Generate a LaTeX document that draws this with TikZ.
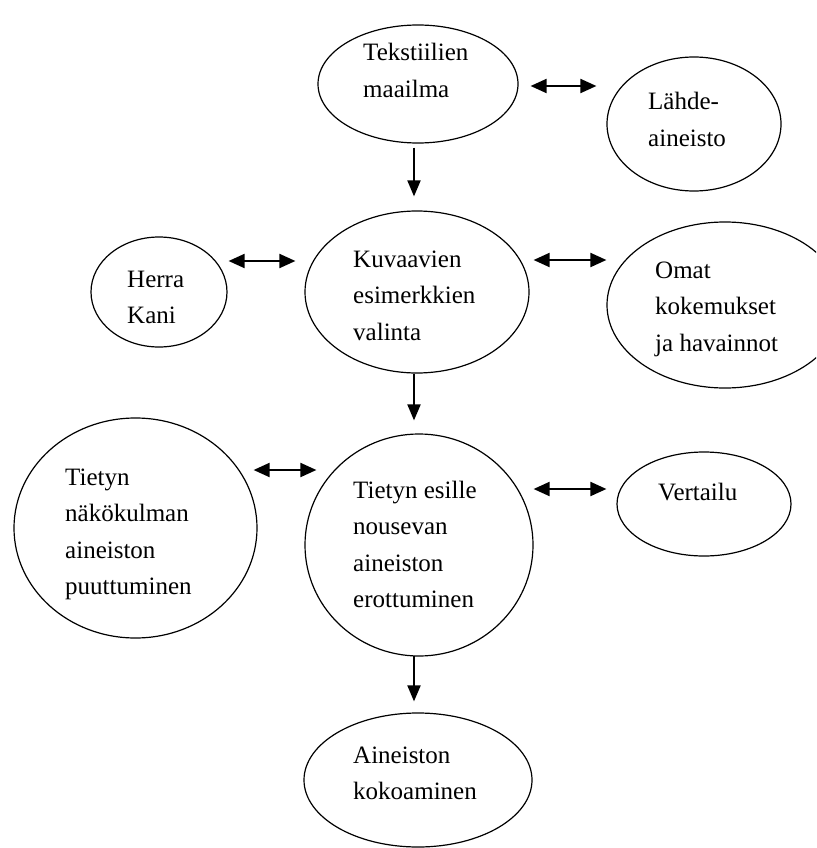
\documentclass[tikz,border=0pt]{standalone}
\usepackage{fontspec}
\setmainfont{Liberation Serif}
\usetikzlibrary{shapes.geometric,arrows.meta,calc}
\newcommand\bublines[1]{\begin{tabular}[t]{@{}l@{}}#1\end{tabular}}
\begin{document}
\begin{tikzpicture}[x=1pt,y=-1pt,
  oval/.style 2 args={draw, ellipse, line width=1.2pt, inner sep=0pt,
    minimum width=#1, minimum height=#2},
  lbl/.style={anchor=base west, inner sep=0pt,
    font=\fontsize{25}{36.5}\selectfont},
  dbl/.style={{Triangle[length=16pt,width=14pt]}-{Triangle[length=16pt,width=14pt]}, line width=2pt},
  one/.style={-{Triangle[length=16pt,width=13pt]}, line width=2pt}]
\useasboundingbox (0,0) rectangle (816,848);
\clip (0,0) rectangle (816,848);
% ellipses
\node[oval={200pt}{118pt}] (tekst) at (418,84) {};
\node[oval={174pt}{134pt}] (lahde) at (694,124) {};
\node[oval={136pt}{110pt}] (herra) at (159,292) {};
\node[oval={224pt}{162pt}] (kuv) at (417,292) {};
\node[oval={236pt}{166pt}] (omat) at (725,305) {};
\node[oval={243pt}{220pt}] (nak) at (135.5,528) {};
\node[oval={228pt}{222pt}] (esille) at (419,545) {};
\node[oval={174pt}{104pt}] (vert) at (704,504) {};
\node[oval={228pt}{134pt}] (koko) at (418,780) {};
% texts
\node[lbl] (tekstT) at (363,61) {\bublines{Tekstiilien\\maailma}};
\node[lbl] (lahdeT) at (648,110) {\bublines{Lähde-\\aineisto}};
\node[lbl] (herraT) at (127,287) {\bublines{Herra\\Kani}};
\node[lbl] (kuvT) at (353,267) {\bublines{Kuvaavien\\esimerkkien\\valinta}};
\node[lbl] (omatT) at (655,278) {\bublines{Omat\\kokemukset\\ja havainnot}};
\node[lbl] (nakT) at (65,485) {\bublines{Tietyn\\näkökulman\\aineiston\\puuttuminen}};
\node[lbl] (esilleT) at (353,498) {\bublines{Tietyn esille\\nousevan\\aineiston\\erottuminen}};
\node[lbl] (vertT) at (658,500) {Vertailu};
\node[lbl] (kokoT) at (353,763) {\bublines{Aineiston\\kokoaminen}};
% double arrows
\draw[dbl] ($(tekst.east)+(12,2)$) -- ($(tekst.east -| lahde.west)+(-10,2)$);
\draw[dbl] ($(herra.east)+(1,-31)$) -- ($(herra.east -| kuv.west)+(-9,-31)$);
\draw[dbl] ($(kuv.east)+(4,-32)$) -- ($(kuv.east -| omat.west)+(0,-32)$);
\draw[dbl] ($(nak.east)+(-4,-58)$) -- ($(nak.east -| esille.west)+(12,-58)$);
\draw[dbl] ($(esille.east)+(0,-56)$) -- ($(esille.east -| vert.west)+(-10,-56)$);
% down arrows
\draw[one] ($(tekst.south)+(-4,4)$) -- ($(tekst.south |- kuv.north)+(-4,-14)$);
\draw[one] ($(kuv.south)+(-3,0)$) -- ($(kuv.south |- esille.north)+(-3,-13)$);
\draw[one] ($(esille.south)+(-5,-1)$) -- ($(esille.south |- koko.north)+(-5,-11)$);
\end{tikzpicture}
\end{document}
